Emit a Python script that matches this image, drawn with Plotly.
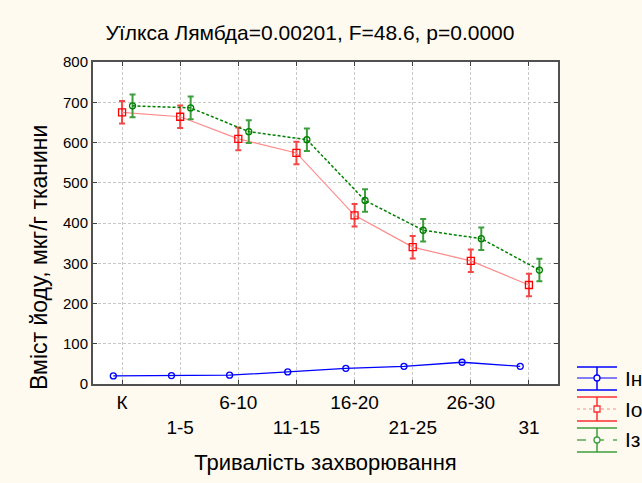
import numpy as np
import plotly.graph_objects as go

# Duration of illness groups
categories = ["К", "1-5", "6-10", "11-15", "16-20", "21-25", "26-30", "31"]

# Iodine content, mcg/g tissue (means and error half-widths)
blue_vals = [20, 21, 22, 30, 39, 44, 54, 44]
red_vals = [675, 664, 609, 574, 419, 340, 306, 246]
red_err = [28, 28, 28, 28, 28, 28, 28, 28]
green_vals = [691, 686, 627, 607, 456, 382, 361, 283]
green_err = [28, 28, 28, 28, 28, 28, 28, 28]

legend_names = ["Ін", "Іо", "Із"]
y_ticks = [0, 100, 200, 300, 400, 500, 600, 700, 800]

W, H = 642, 483
L, R, T, B = 93, 558, 62, 384

BLUE = "#0000FF"
RED = "#FF0000"
GREEN = "#008000"

xi = np.arange(len(categories))
# alternate tick labels between two rows
tick_text = [c if i % 2 == 0 else "<br>" + c for i, c in enumerate(categories)]

fig = go.Figure()

fig.add_trace(go.Scatter(
    x=xi - 0.15, y=blue_vals, mode="lines+markers", name=legend_names[0],
    line=dict(color=BLUE, width=1.3),
    marker=dict(symbol="circle-open", size=6, color=BLUE, line=dict(width=1.3)),
))
fig.add_trace(go.Scatter(
    x=xi, y=red_vals, mode="lines+markers", name=legend_names[1],
    line=dict(color="#FF8A8A", width=1.2),
    marker=dict(symbol="square-open", size=7, color=RED, line=dict(width=1.3)),
    error_y=dict(type="data", array=red_err, color="#F24848", thickness=2, width=3),
))
fig.add_trace(go.Scatter(
    x=xi + 0.18, y=green_vals, mode="lines+markers", name=legend_names[2],
    line=dict(color=GREEN, width=1.5, dash="3px,2px"),
    marker=dict(symbol="circle-open", size=6, color=GREEN, line=dict(width=1.3)),
    error_y=dict(type="data", array=green_err, color="#3E9E3E", thickness=2, width=3),
))


def px(x):
    return (x - L) / (R - L)


def py(y):
    return (B - y) / (B - T)


# Hand-drawn legend with error-bar glyphs
shapes = []
annotations = []
legend_rows = [
    (legend_names[0], BLUE, BLUE, "solid", "circle", 367, 378, 390),
    (legend_names[1], "#FF3030", "#FF8A8A", "dot", "square", 397, 409, 421),
    (legend_names[2], "#3E9E3E", GREEN, "dash", "circle", 428, 440, 452),
]
for name, col, mid_col, dash, sym, ytop, ymid, ybot in legend_rows:
    for yy in (ytop, ybot):
        shapes.append(dict(type="line", xref="paper", yref="paper",
                           x0=px(577), x1=px(617), y0=py(yy), y1=py(yy),
                           line=dict(color=col, width=1.5)))
    shapes.append(dict(type="line", xref="paper", yref="paper",
                       x0=px(577), x1=px(617), y0=py(ymid), y1=py(ymid),
                       line=dict(color=mid_col, width=1, dash=dash)))
    shapes.append(dict(type="line", xref="paper", yref="paper",
                       x0=px(597), x1=px(597), y0=py(ytop), y1=py(ybot),
                       line=dict(color=col, width=1.5)))
    shapes.append(dict(type="rect" if sym == "square" else "circle",
                       xref="paper", yref="paper",
                       x0=px(594), x1=px(600), y0=py(ymid - 3), y1=py(ymid + 3),
                       fillcolor="white", line=dict(color=col, width=1.3)))
    annotations.append(dict(text=name, xref="paper", yref="paper",
                            x=px(623), y=py(ymid), xanchor="left", yanchor="middle",
                            showarrow=False,
                            font=dict(size=21, color="black", family="Liberation Sans")))

# vertical axis caption
annotations.append(dict(text="Вміст йоду, мкг/г тканини", textangle=-90,
                        xref="paper", yref="paper", x=px(39), y=py(258),
                        xanchor="center", yanchor="middle", showarrow=False,
                        font=dict(size=23, color="black")))

fig.update_layout(
    width=W, height=H,
    margin=dict(l=L, r=W - R, t=T, b=H - B),
    paper_bgcolor="#FFFAF0",
    plot_bgcolor="white",
    showlegend=False,
    font=dict(family="Liberation Sans, Arial, sans-serif", color="black"),
    title=dict(text="Уїлкса Лямбда=0.00201, F=48.6, p=0.0000",
               x=310 / W, xref="container", xanchor="center",
               y=1 - 33 / H, yref="container", yanchor="middle",
               font=dict(size=21, color="black")),
    shapes=shapes,
    annotations=annotations,
)

fig.update_xaxes(
    range=[-0.5, 7.5],
    tickmode="array", tickvals=xi, ticktext=tick_text,
    tickfont=dict(size=19),
    ticks="inside", ticklen=4, tickcolor="#404040",
    showline=True, linecolor="#505050", linewidth=2, mirror="ticks",
    showgrid=True, gridcolor="#C8C8C8", griddash="3px,2px", gridwidth=1,
    zeroline=False,
    title=dict(text="Тривалість захворювання", font=dict(size=22), standoff=18),
)
fig.update_yaxes(
    range=[0, 800],
    tickmode="array", tickvals=y_ticks,
    tickfont=dict(size=15),
    ticks="inside", ticklen=4, tickcolor="#404040",
    showline=True, linecolor="#505050", linewidth=2, mirror="ticks",
    showgrid=True, gridcolor="#C8C8C8", griddash="3px,2px", gridwidth=1,
    zeroline=False,
)

fig.write_html("out.html")
